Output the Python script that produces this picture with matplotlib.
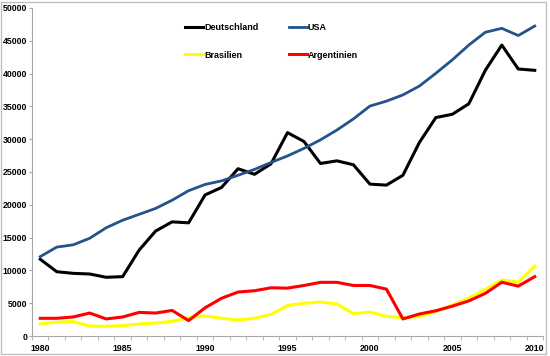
import numpy as np
import matplotlib.pyplot as plt
from matplotlib.patches import Rectangle

# Daten
jahre = list(range(1980, 2011))
deutschland = [11700, 9800, 9550, 9450, 8950, 9050, 13100, 16000, 17400, 17250,
               21500, 22650, 25500, 24650, 26250, 31000, 29650, 26300, 26700, 26100,
               23150, 23000, 24500, 29500, 33300, 33800, 35400, 40500, 44350, 40700,
               40500]
usa = [12100, 13550, 13900, 14900, 16500, 17650, 18550, 19450, 20700, 22150,
       23100, 23650, 24500, 25400, 26450, 27450, 28600, 29900, 31400, 33100,
       35050, 35800, 36750, 38100, 40050, 42100, 44350, 46300, 46900, 45800,
       47250]
brasilien = [1850, 2100, 2200, 1520, 1480, 1580, 1830, 1980, 2230, 2800,
             3050, 2700, 2450, 2700, 3300, 4650, 4980, 5180, 4880, 3400,
             3650, 3000, 2800, 2950, 3700, 4730, 5800, 7100, 8550, 8200,
             10650]
argentinien = [2700, 2700, 2900, 3500, 2600, 2900, 3600, 3500, 3900, 2350,
               4300, 5750, 6700, 6900, 7350, 7300, 7700, 8180, 8180, 7700,
               7700, 7150, 2600, 3350, 3850, 4550, 5350, 6500, 8200, 7600,
               9050]

plt.rcParams['font.family'] = ['Liberation Sans', 'DejaVu Sans']
plt.rcParams['font.weight'] = 'bold'

fig = plt.figure(figsize=(5.5, 3.56), dpi=100)
ax = fig.add_axes([32 / 550, 20 / 356, 511 / 550, 328 / 356])

x = np.arange(len(jahre))
l1, = ax.plot(x, deutschland, color="#000000", lw=2.2, label="Deutschland")
l2, = ax.plot(x, usa, color="#24538C", lw=2.0, label="USA")
l3, = ax.plot(x, brasilien, color="#FFFF00", lw=2.2, label="Brasilien")
l4, = ax.plot(x, argentinien, color="#FF0000", lw=2.2, label="Argentinien")

ax.set_xlim(-0.5, len(jahre) - 0.5)
ax.set_ylim(0, 50000)
ax.set_yticks(range(0, 50001, 5000))

# x-Achse: Beschriftung alle 5 Jahre, Striche zwischen den Kategorien
ax.set_xticks(x[::5])
ax.set_xticklabels([str(j) for j in jahre[::5]])
ax.set_xticks(np.arange(-0.5, len(jahre), 1), minor=True)
ax.tick_params(axis="x", which="major", length=0, pad=6, labelsize=6.3)
ax.tick_params(axis="x", which="minor", length=3, color="#A6A6A6", direction="out")
ax.tick_params(axis="y", length=2.2, color="#A6A6A6", pad=1.2, labelsize=6.3)

for s in ["top", "right"]:
    ax.spines[s].set_visible(False)
for s in ["left", "bottom"]:
    ax.spines[s].set_color("#A6A6A6")
    ax.spines[s].set_linewidth(0.8)

fig.legend([l1, l3, l2, l4], ["Deutschland", "Brasilien", "USA", "Argentinien"],
           ncol=2, loc="upper left", bbox_to_anchor=(185 / 550, 1 - 23 / 356),
           frameon=False, fontsize=6.5, handlelength=2.0, handletextpad=0.1,
           columnspacing=3.4, labelspacing=2.05, borderaxespad=0, borderpad=0)

# Rahmen um das Diagramm
fig.patches.append(Rectangle((0.5 / 550, 2 / 356), 545 / 550, 352.5 / 356,
                             transform=fig.transFigure, fill=False,
                             edgecolor="#BFBFBF", lw=1))

fig.savefig("out.png", dpi=100)
